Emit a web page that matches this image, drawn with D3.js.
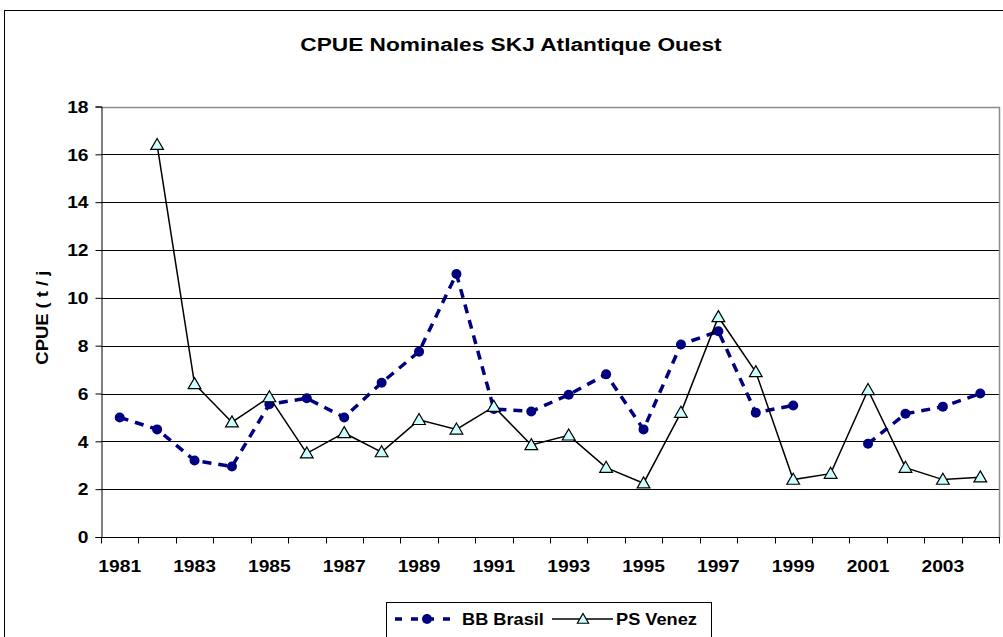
<!DOCTYPE html>
<html>
<head>
<meta charset="utf-8">
<script src="https://cdn.jsdelivr.net/npm/d3@7"></script>
<style>
  body { margin: 0; background: #fff; }
  text { font-family: "Liberation Sans", Arial, sans-serif; font-weight: bold; fill: #000; }
</style>
</head>
<body>
<svg id="chart" width="1003" height="637"></svg>
<script>
// données
var annees = [1981, 1982, 1983, 1984, 1985, 1986, 1987, 1988, 1989, 1990, 1991, 1992,
  1993, 1994, 1995, 1996, 1997, 1998, 1999, 2000, 2001, 2002, 2003, 2004];
var bbBrasil = [5.0, 4.5, 3.2, 2.95, 5.55, 5.8, 5.0, 6.45, 7.75, 11.0, 5.35, 5.25,
  5.95, 6.8, 4.5, 8.05, 8.6, 5.2, 5.5, null, 3.9, 5.15, 5.45, 6.0];
var psVenez = [null, 16.4, 6.4, 4.8, 5.85, 3.5, 4.35, 3.55, 4.9, 4.5, 5.45, 3.85,
  4.25, 2.9, 2.25, 5.2, 9.2, 6.9, 2.4, 2.65, 6.15, 2.9, 2.4, 2.5];
var yTicks = [0, 2, 4, 6, 8, 10, 12, 14, 16, 18];
var titre = "CPUE Nominales SKJ Atlantique Ouest";
var titreY = "CPUE ( t / j )";
var noms = ["BB Brasil", "PS Venez"];

var svg = d3.select("#chart");
var pLeft = 101, pRight = 999, pTop = 106.5, pBottom = 537;

var x = d3.scaleBand().domain(annees).range([pLeft, pRight]);
var y = d3.scaleLinear().domain([0, 18]).range([pBottom, pTop]);

// le texte de l'original est étiré en largeur
function etirer (sel, sx){
  sel.each(function (){
    var w = this.getComputedTextLength();
    d3.select(this)
      .attr("textLength", w * sx)
      .attr("lengthAdjust", "spacingAndGlyphs");
  });
}

// cadre extérieur
svg.append("rect")
  .attr("x", 4.5).attr("y", 10.5)
  .attr("width", 1010).attr("height", 640)
  .attr("fill", "none").attr("stroke", "#000");

svg.append("text")
  .attr("x", 511).attr("y", 51)
  .attr("text-anchor", "middle")
  .attr("font-size", "18px")
  .text(titre)
  .call(etirer, 1.26);

// quadrillage
svg.append("g").selectAll("line")
  .data(yTicks.filter(function (d) { return d > 0 && d < 18; }))
  .join("line")
  .attr("x1", pLeft).attr("x2", pRight)
  .attr("y1", function (d) { return Math.round(y(d)) + 0.5; })
  .attr("y2", function (d) { return Math.round(y(d)) + 0.5; })
  .attr("stroke", "#000");

// bord de la zone de tracé
svg.append("path")
  .attr("d", "M" + pLeft + "," + (Math.round(pTop) + 0.5) + "H" + (pRight + 0.5) + "V" + pBottom)
  .attr("fill", "none").attr("stroke", "#8c8c8c").attr("stroke-width", 1.5);

// axe Y
var yAxis = svg.append("g")
  .attr("transform", "translate(" + (pLeft + 0.5) + ",0)")
  .call(d3.axisLeft(y).tickValues(yTicks).tickSize(6).tickPadding(7));
yAxis.select(".domain").attr("stroke", "#000");
yAxis.selectAll("line").attr("stroke", "#000");
yAxis.selectAll("text")
  .attr("font-size", "16px").attr("font-family", null).attr("dy", "0.36em")
  .call(etirer, 1.2);

// axe X : graduations entre les catégories
var xAxis = svg.append("g")
  .attr("transform", "translate(0," + (pBottom + 0.5) + ")");
xAxis.append("line")
  .attr("x1", pLeft).attr("x2", pRight + 1)
  .attr("stroke", "#000");
xAxis.selectAll("line.tick")
  .data(annees.concat([null]))
  .join("line")
  .attr("class", "tick")
  .attr("x1", function (d, i) { return Math.round(pLeft + i * x.bandwidth()) + 0.5; })
  .attr("x2", function (d, i) { return Math.round(pLeft + i * x.bandwidth()) + 0.5; })
  .attr("y1", 0).attr("y2", 6)
  .attr("stroke", "#000");
xAxis.selectAll("text")
  .data(annees.filter(function (d, i) { return i % 2 === 0; }))
  .join("text")
  .attr("x", function (d) { return x(d) + x.bandwidth() / 2; })
  .attr("y", 34)
  .attr("text-anchor", "middle")
  .attr("font-size", "16px")
  .text(function (d) { return d; })
  .call(etirer, 1.2);

// titre de l'axe Y (coupé en haut comme dans l'original)
svg.append("clipPath").attr("id", "clipy")
  .append("rect").attr("x", 0).attr("y", 269).attr("width", 100).attr("height", 200);
svg.append("g")
  .attr("clip-path", "url(#clipy)")
  .append("text")
  .attr("transform", "translate(48,312) rotate(-90)")
  .attr("text-anchor", "middle")
  .attr("font-size", "16px")
  .text(titreY)
  .call(etirer, 1.15);

var cx = function (d) { return x(d.an) + x.bandwidth() / 2; };
var ligne = d3.line()
  .defined(function (d) { return d.v != null; })
  .x(cx)
  .y(function (d) { return y(d.v); });

var dataBB = annees.map(function (a, i) { return { an: a, v: bbBrasil[i] }; });
var dataPS = annees.map(function (a, i) { return { an: a, v: psVenez[i] }; });

var triangle = d3.symbol().type(d3.symbolTriangle).size(70);

// BB Brasil
svg.append("path")
  .attr("d", ligne(dataBB))
  .attr("fill", "none")
  .attr("stroke", "#000080")
  .attr("stroke-width", 3.5)
  .attr("stroke-dasharray", "9,7");
svg.append("g").selectAll("circle")
  .data(dataBB.filter(function (d) { return d.v != null; }))
  .join("circle")
  .attr("cx", cx)
  .attr("cy", function (d) { return y(d.v); })
  .attr("r", 5)
  .attr("fill", "#000080");

// PS Venez
svg.append("path")
  .attr("d", ligne(dataPS))
  .attr("fill", "none")
  .attr("stroke", "#000")
  .attr("stroke-width", 1.5);
svg.append("g").selectAll("path")
  .data(dataPS.filter(function (d) { return d.v != null; }))
  .join("path")
  .attr("transform", function (d) { return "translate(" + cx(d) + "," + (y(d.v) + 1) + ")"; })
  .attr("d", triangle)
  .attr("fill", "#ccffff")
  .attr("stroke", "#000")
  .attr("stroke-width", 1.2);

// légende
var leg = svg.append("g");
leg.append("rect")
  .attr("x", 386.5).attr("y", 602.5)
  .attr("width", 325).attr("height", 40)
  .attr("fill", "#fff").attr("stroke", "#000");
leg.append("line")
  .attr("x1", 395).attr("x2", 458).attr("y1", 619).attr("y2", 619)
  .attr("stroke", "#000080").attr("stroke-width", 3.5).attr("stroke-dasharray", "7,9");
leg.append("circle")
  .attr("cx", 427).attr("cy", 619).attr("r", 5).attr("fill", "#000080");
leg.append("text")
  .attr("x", 462).attr("y", 625).attr("font-size", "17px").text(noms[0])
  .call(etirer, 1.07);
leg.append("line")
  .attr("x1", 552).attr("x2", 613).attr("y1", 619).attr("y2", 619)
  .attr("stroke", "#000").attr("stroke-width", 1.5);
leg.append("path")
  .attr("transform", "translate(583,620)")
  .attr("d", d3.symbol().type(d3.symbolTriangle).size(55))
  .attr("fill", "#ccffff").attr("stroke", "#000").attr("stroke-width", 1.2);
leg.append("text")
  .attr("x", 616).attr("y", 625).attr("font-size", "17px").text(noms[1])
  .call(etirer, 1.07);
</script>
</body>
</html>
